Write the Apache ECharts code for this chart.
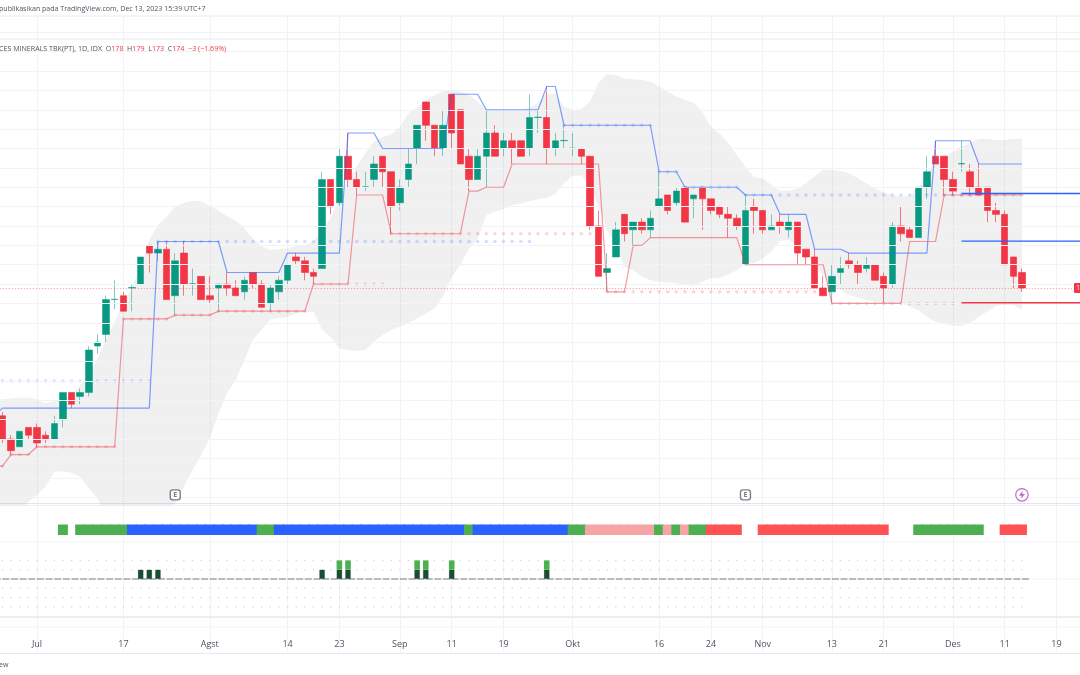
<!DOCTYPE html>
<html><head><meta charset="utf-8">
<style>html,body{margin:0;padding:0;background:#fff}#c{width:1080px;height:675px}</style>
<script src="https://cdn.jsdelivr.net/npm/echarts@6/dist/echarts.min.js"></script>
</head><body><div id="c"></div>
<script>
// Bars: first entry is the bar just off the left edge of the picture
const opens=[141,141,135,133,138,138,136,135,140,147,146,147,159,162,171,172,174,175,185,183,184,172,183,175,177,172,174,175,174,173,178,175,170,173,176,182,181,178,179,202,196,208,202,200,202,208,204,196,202,210,222,216,210,224,220,208,202,208,214,210,212,212,210,218,218,210,212,210,210,208,190,178,182,193,189,191,189,195,198,196,200,197,200,197,195,193,192,180,195,194,189,191,189,191,184,182,174,173,178,181,180,179,180,177,175,190,189,187,200,208,208,202,206,204,200,200,194,193,182,178];
const highs=[141,142,136,137,138,139,137,141,147,147,148,159,162,172,176,173,175,182,185,186,186,183,186,179,177,177,175,178,176,177,178,176,175,177,180,183,182,179,204,202,210,214,204,204,208,208,204,202,210,216,222,216,220,224,220,210,210,220,216,214,214,212,224,220,226,214,216,214,210,208,194,183,191,193,191,192,194,204,198,200,200,198,200,197,195,195,193,198,197,194,193,193,193,191,184,184,177,180,182,183,181,182,180,178,191,195,190,200,208,212,208,204,212,206,206,200,196,194,182,179];
const lows=[141,134,131,133,135,133,134,135,138,143,144,146,157,160,168.5,168,168,175,178,181,171,167,172,172,171,170,168,172,172,171,174,169,168,171,175,180,176,175,179,193,195,200,198,199,200,200,188,194,200,206,212,208,208,210,206,199,202,200,208,208,206,208,208,214,206,208,210,208,206,189,177,173,182,186,185,188,187,195,193,195,191,192,189,193,192,187,189,180,188,188,189,188,187,180,180,174,172,170,175,179,175,178,176,170,174,186,187,187,197,206,198,198,204,198,198,191,191,180,174,173];
const closes=[141,135,132,137,136,134,135,139,147,144,147,158,160,171,171.1,168,174.1,182,183,184,171,181,175,175.1,171,171,175,174,172,176,175,169,174,176,180,181,178,177,202,195,208,202,200,200.1,206,204,195,200,206,216,216,210,216,214,206,202,208,214,208,212,210,208,218,218.1,210,212,212.1,210.1,208,190,177,179,189,188,191,189,192,197,194,199,191,198,197,194,193,192,190,194,194,189,190,190,191,183,182,174,172,177,179,180,178,180,176,174,190,188,187,200,204,206,202,199,206.1,200,198,194,193,180,177,174];
// Stepped channel as [bar count, level]
const upperRuns=[[1,141],[18,143],[8,186],[7,178],[7,183],[4,214],[8,210],[4,224],[7,220],[2,226],[11,216],[3,204],[7,200],[4,198],[4,193],[4,184],[10,183],[5,212],[6,206]];
const lowerRuns=[[2,128],[3,131],[10,133],[6,166],[5,167],[11,168],[5,175],[4,198],[9,188],[2,199],[3,200],[11,206],[3,173],[2,185],[11,187],[10,180],[9,170],[4,186],[10,198]];
// Envelope
const bandUpper=[145,145.3,145.5,145.7,145.7,145.3,144.2,144.8,145.1,146.4,148.9,151.5,155.8,160.6,165.3,170,174.3,179.5,186.4,190.2,192.4,195,196,196.5,196.3,195.2,194,192.6,191.4,189.4,186.8,184.8,183.8,184,184.2,184.7,185.1,186,189,192,197.6,201.9,205.3,208.8,211.8,213,213.7,215.6,219.1,220.6,222.5,223.8,224.7,225.1,224.8,223.8,222.1,220.1,220.1,220,220,220,220.5,221.8,224.1,224.1,220.8,220,220.1,222.1,227,229.2,229,228.1,227.9,227.7,227.3,226,224.7,223.4,222.5,221.8,219.5,215.6,213.9,211.4,208.3,205.3,202.6,202.3,200.6,199.1,199.1,199.7,201,202.9,204.6,204.5,204.2,203.6,202.3,201,199.7,198.7,198,197.6,197.7,199.7,203.6,206.9,207.9,209,210.5,211.5,212.5,212.5,212.2,212.2,212.5,212.6];
const bandLower=[108,110.7,113.2,116.3,118.8,120.6,122.7,126.6,126.6,126.3,125.3,122.3,119.7,115.8,112.4,110.7,109,108,109.8,112.4,115.8,118.4,122.7,127,130.9,135.2,141.6,146.8,150.2,155.4,160.6,163.3,165.9,166.2,166.6,167.5,167.8,167.9,163.2,161.3,158.4,158,157.7,158,160.1,161.9,163.2,164,164.9,166.2,167.4,168.7,171.8,176.9,179.9,184.2,186.8,192.8,193.7,194.3,195.4,195.8,196.4,196.9,197.3,198.3,201,202.9,203.1,200.6,195,189,184.7,179.5,178.6,176.9,176,175.6,175.4,175.2,174.8,174.5,175.6,176.5,176.5,177.5,178.6,180.4,180.4,181.6,183.4,186.2,186.4,184.8,183,179.9,176.9,174.6,173.5,172.2,171.5,170.9,170.5,170,170,170,169.2,168.3,166.6,165.3,164.7,164.3,164.2,164.9,166.6,167.9,169.4,169.6,169.6,168.3];
// Dotted pivots: [first bar, last bar, level]; bar numbers count from 0 at the first visible bar
const upperDots=[[-1,17,150],[18,61,186],[65,75,216],[76,78,204],[79,85,200],[86,112,198]];
const lowerDots=[[-1,0,128],[1,3,131],[4,13,133],[14,19,166],[20,24,167],[25,35,168],[36,44,175],[45,68,188],[70,95,173],[96,110,170],[109,118,198]];
// Right-hand levels
const rightLevels=[[198.4,'#2962ff'],[186.1,'#2962ff'],[170.2,'#f23645']];
const rightStart=111;
const lastPrice=174;
const gridPrices=[120,125,130,135,140,145,150,155,160,165,170,175,180,185,190,195,200,205,210,215,220,225,230,235,240];
// Tick labels by bar number
const tickBars=[4,14,24,33,39,46,52,58,66,76,82,88,96,102,110,116,122];
const tickLabels=['Jul','17','Agst','14','23','Sep','11','19','Okt','16','24','Nov','13','21','Des','11','19'];
// State strip: [first bar, last bar, state]
const stripRuns=[[7,7,'g'],[9,14,'g'],[15,29,'b'],[30,31,'g'],[32,53,'b'],[54,54,'g'],[55,65,'b'],[66,67,'g'],[68,75,'p'],[76,76,'g'],[77,77,'p'],[78,78,'g'],[79,79,'p'],[80,81,'g'],[82,85,'r'],[88,102,'r'],[106,113,'g'],[116,118,'r']];
const stripColors={g:'#4caf50',b:'#2962ff',p:'#f5a5a5',r:'#ff5252'};
// Momentum pane
const darkBars=[16,17,18,37,39,40,48,49,52,63];
const lightBars=[39,40,48,49,52,63];
const dotRows=[2,1,-1,-2,-3];
const earningsBars=[20,86];
const dividendBars=[118];
const eventLevel=120.6;

const OFF=1, N=130, STEP=8.64, LEFT=-6.22;
const idx=i=>i+OFF;
const cats=Array.from({length:N},(_,k)=>String(k-OFF));
const expand=r=>r.flatMap(([n,v])=>Array(n).fill(v));
const upper=expand(upperRuns), lower=expand(lowerRuns);
const nullArr=()=>Array(N).fill(null);
const candle=opens.map((o,k)=>[o,closes[k],lows[k],highs[k]]);
const bandDiff=bandUpper.map((u,k)=>u-bandLower[k]);
const dots=r=>r.flatMap(([a,b,v])=>{const o=[];for(let i=a;i<=b;i++)o.push([idx(i),v]);return o;});
const strip=nullArr();
stripRuns.forEach(([a,b,s])=>{for(let i=a;i<=b;i++)strip[idx(i)]={value:1,itemStyle:{color:stripColors[s]}};});
const dark=nullArr(),light=nullArr();
darkBars.forEach(i=>dark[idx(i)]=1);lightBars.forEach(i=>light[idx(i)]=1);
const zero=[];for(let i=-1;i<=119;i++)zero.push(0);
const rowDots=dotRows.flatMap(v=>{const o=[];for(let i=0;i<=118;i++)o.push([idx(i),v]);return o;});
const tickMap={};tickBars.forEach((b,j)=>tickMap[idx(b)]=tickLabels[j]);

const gridBase={left:LEFT,width:(N-1)*STEP,outerBoundsMode:'none',containLabel:false};
const xHidden=g=>({type:'category',gridIndex:g,data:cats,boundaryGap:false,show:false});
const hline=(y,c,w)=>({type:'line',z:1,silent:true,shape:{x1:0,y1:y,x2:1080,y2:y},style:{stroke:c,lineWidth:w||1}});
const font='"Open Sans",sans-serif';
const GRID='#f2f3f7';

const series=[
 {type:'line',xAxisIndex:0,yAxisIndex:0,data:[],silent:true,z:1,markLine:{silent:true,symbol:'none',label:{show:false},animation:false,lineStyle:{color:GRID,width:1,type:'solid'},data:gridPrices.map(p=>({yAxis:p}))}},
 {type:'line',xAxisIndex:0,yAxisIndex:0,data:bandLower,stack:'band',symbol:'none',lineStyle:{opacity:0},silent:true,z:2},
 {type:'line',xAxisIndex:0,yAxisIndex:0,data:bandDiff,stack:'band',symbol:'none',lineStyle:{opacity:0},areaStyle:{color:'#787b86',opacity:0.115},silent:true,z:2},
 {type:'scatter',xAxisIndex:0,yAxisIndex:0,data:dots(upperDots),symbolSize:3.6,itemStyle:{color:'#2962ff',opacity:0.2},silent:true,z:3},
 {type:'scatter',xAxisIndex:0,yAxisIndex:0,data:dots(lowerDots),symbolSize:3.6,itemStyle:{color:'#f23645',opacity:0.2},silent:true,z:3},
 {type:'candlestick',xAxisIndex:0,yAxisIndex:0,data:candle,barWidth:7,z:4,
  itemStyle:{color:'#089981',color0:'#f23645',borderColor:'rgba(8,153,129,0.5)',borderColor0:'rgba(242,54,69,0.65)',borderWidth:1},
  markLine:{silent:true,symbol:'none',animation:false,label:{show:false},lineStyle:{color:'rgba(242,54,69,0.55)',type:[1,2],width:1},data:[{yAxis:lastPrice}]}},
 {type:'line',xAxisIndex:0,yAxisIndex:0,data:upper,symbol:'none',lineStyle:{color:'#2962ff',width:1.2,opacity:0.6},silent:true,z:5},
 {type:'line',xAxisIndex:0,yAxisIndex:0,data:lower,symbol:'none',lineStyle:{color:'#f23645',width:1.2,opacity:0.5},silent:true,z:5},
 ...rightLevels.map(([v,c])=>{const d=nullArr();for(let k=idx(rightStart);k<N;k++)d[k]=v;return {type:'line',xAxisIndex:0,yAxisIndex:0,data:d,symbol:'none',lineStyle:{color:c,width:1.4},silent:true,z:6};}),
 {type:'scatter',xAxisIndex:0,yAxisIndex:0,data:earningsBars.map(i=>[idx(i),eventLevel]),symbol:'roundRect',symbolSize:10,z:7,silent:true,
  itemStyle:{color:'#fff',borderColor:'#5d606b',borderWidth:1.4},label:{show:true,position:'inside',formatter:'E',fontSize:7,fontFamily:font,fontWeight:'bold',color:'#5d606b'}},
 {type:'scatter',xAxisIndex:0,yAxisIndex:0,data:dividendBars.map(i=>[idx(i),eventLevel]),symbol:'circle',symbolSize:12.5,z:7,silent:true,
  itemStyle:{color:'#fff',borderColor:'#ab47bc',borderWidth:1.2}},
 {type:'scatter',xAxisIndex:0,yAxisIndex:0,data:dividendBars.map(i=>[idx(i),eventLevel]),symbol:'path://M13 2 L3 14 L10 14 L9 22 L19 10 L12 10 Z',symbolSize:[6,8],z:8,silent:true,
  itemStyle:{color:'#ab47bc'}},
 {type:'bar',xAxisIndex:1,yAxisIndex:1,data:strip,barWidth:10,silent:true,z:3},
 {type:'line',xAxisIndex:2,yAxisIndex:2,data:zero,symbol:'none',lineStyle:{color:'#787b86',width:1,type:[7,1.64]},silent:true,z:2},
 {type:'scatter',xAxisIndex:2,yAxisIndex:2,data:rowDots,symbolSize:1.5,itemStyle:{color:'#c9cbd1'},silent:true,z:2},
 {type:'bar',xAxisIndex:2,yAxisIndex:2,stack:'m',data:dark,barWidth:5.6,itemStyle:{color:'#1b4d33',borderColor:'rgba(27,77,51,0.35)',borderWidth:0.5},silent:true,z:3},
 {type:'bar',xAxisIndex:2,yAxisIndex:2,stack:'m',data:light,barWidth:5.6,itemStyle:{color:'#4caf50'},silent:true,z:3}
];

const chart=echarts.init(document.getElementById('c'),null,{renderer:'canvas'});
chart.setOption({
 animation:false,backgroundColor:'#fff',
 grid:[
  {...gridBase,top:16,height:488},
  {...gridBase,top:524.5,height:10.5},
  {...gridBase,top:551.1,height:55.8},
  {...gridBase,top:16,height:637}
 ],
 xAxis:[xHidden(0),xHidden(1),xHidden(2),{
  type:'category',gridIndex:3,data:cats,boundaryGap:false,position:'bottom',
  axisLine:{show:true,lineStyle:{color:'#e6e8ef'}},axisTick:{show:false},
  splitLine:{show:true,interval:(k)=>k in tickMap,lineStyle:{color:GRID}},
  axisLabel:{show:true,inside:true,margin:4,interval:(k)=>k in tickMap,formatter:(v,k)=>tickMap[k]||'',
   fontSize:9,fontFamily:font,color:'#50535e',hideOverlap:false}
 }],
 yAxis:[
  {type:'value',gridIndex:0,min:118.24,max:244.2,show:false,splitLine:{show:false}},
  {type:'value',gridIndex:1,min:0,max:1,show:false,splitLine:{show:false}},
  {type:'value',gridIndex:2,min:-3,max:3,show:false,splitLine:{show:false}},
  {type:'value',gridIndex:3,min:0,max:1,show:false,splitLine:{show:false}}
 ],
 series,
 graphic:[
  hline(16,'#e8eaf0'),hline(39,'#e8eaf0'),hline(503.5,'#e3e5ec',1),hline(505.5,'#eceef3',1),hline(542,GRID),hline(579,GRID),hline(617,'#eceef3',2),hline(627,GRID),
  {type:'text',z:9,silent:true,x:-1,y:5,style:{text:'publikasikan pada TradingView.com, Dec 13, 2023 15:39 UTC+7',font:'7.05px '+font,fill:'#50535e'}},
  {type:'text',z:9,silent:true,x:-1,y:45,style:{
    text:'CES MINERALS TBK(PT), 1D, IDX  {g|O}{r|178}  {g|H}{r|179}  {g|L}{r|173}  {g|C}{r|174}  {r|\u22123 (\u22121.69%)}',
    font:'7.1px '+font,fill:'#50535e',rich:{g:{fill:'#50535e',font:'7.1px '+font},r:{fill:'#f23645',font:'7.1px '+font}}}},
  {type:'text',z:9,silent:true,x:-1,y:661,style:{text:'ew',font:'7.05px '+font,fill:'#50535e'}},
  {type:'rect',z:9,silent:true,shape:{x:1074,y:283,width:8,height:10,r:1},style:{fill:'#f23645'}},
  {type:'text',z:10,silent:true,x:1076,y:284,style:{text:'174',font:'7.05px '+font,fill:'#fff'}}
 ]
});
</script></body></html>
